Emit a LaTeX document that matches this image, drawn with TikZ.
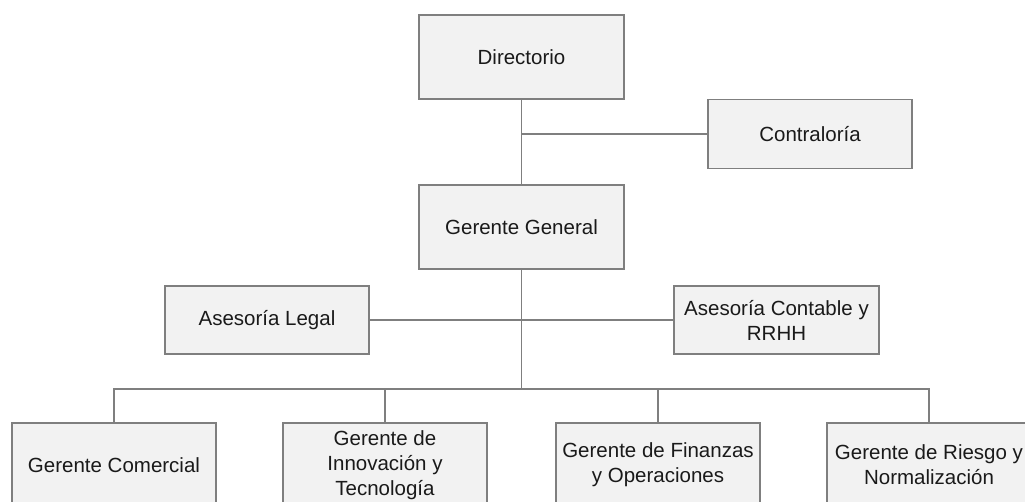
\documentclass[tikz,border=0pt]{standalone}
\usepackage{fontspec}
\setmainfont{Liberation Sans}
\definecolor{boxfill}{HTML}{F2F2F2}
\definecolor{boxline}{HTML}{7F7F7F}
\definecolor{txt}{HTML}{1A1A1A}
\begin{document}
\begin{tikzpicture}[x=1pt,y=-1pt,
  orgbox/.style={draw=boxline, fill=boxfill, line width=1.5pt, minimum width=205pt,
    inner sep=0pt, align=center, text=txt,
    font=\fontsize{20.5}{25}\selectfont},
  tall/.style={orgbox, minimum height=84pt},
  short/.style={orgbox, minimum height=68pt},
  link/.style={draw=boxline, line width=1.5pt}]
\clip (0,0) rectangle (1025,501);
\fill[white] (0,0) rectangle (1025,501);
\node[tall] (dir) at (521.5,57) {Directorio};
\node[orgbox, minimum height=69pt, minimum width=204pt] (contra) at (810,134) {Contraloría};
\node[tall] (gg) at (521.5,227) {Gerente General};
\node[short, minimum width=204pt] (legal) at (267,320) {Asesoría Legal};
\node[short] (cont) at (776.5,320) {Asesoría Contable y\\RRHH};
\node[tall, minimum width=204pt] (com) at (114,465) {Gerente Comercial};
\node[tall, minimum width=204pt] (inn) at (385,465) {Gerente de\\Innovación y\\Tecnología};
\node[tall, minimum width=204pt] (fin) at (658,465) {Gerente de Finanzas\\y Operaciones};
\node[tall, minimum width=204pt] (rie) at (929,465) {Gerente de Riesgo y\\Normalización};
\coordinate (cbr) at (521.5,134);
\coordinate (bus) at (521.5,389);
\draw[link] (dir.south) -- (gg.north);
\draw[link] (cbr) -- (contra.west);
\draw[link] (legal.east) -- (cont.west);
\draw[link] (gg.south) -- (bus);
\draw[link] (com.north) |- (bus) -| (rie.north);
\draw[link] (inn.north) -- (inn.north |- bus);
\draw[link] (fin.north) -- (fin.north |- bus);
\end{tikzpicture}
\end{document}
